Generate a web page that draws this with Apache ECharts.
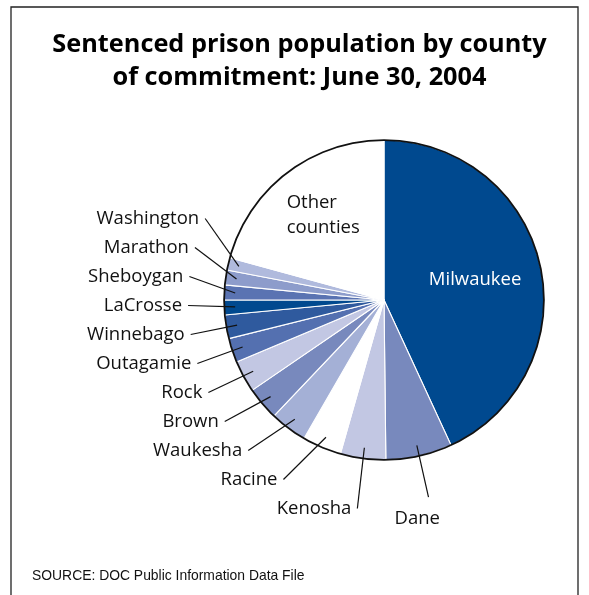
<!DOCTYPE html>
<html>
<head>
<meta charset="utf-8">
<script src="https://cdn.jsdelivr.net/npm/echarts@6/dist/echarts.min.js"></script>
<style>
  html, body { margin: 0; padding: 0; background: #fff; }
  #main { width: 589px; height: 595px; }
</style>
</head>
<body>
<div id="main"></div>
<script>
// counties in clockwise order starting at 12 o'clock
var counties = ["Milwaukee", "Dane", "Kenosha", "Racine", "Waukesha", "Brown", "Rock",
  "Outagamie", "Winnebago", "LaCrosse", "Sheboygan", "Marathon", "Washington", "Other counties"];
// sentenced inmates
var inmates = [9270, 1440, 985, 848, 806, 722, 693, 526, 514, 322, 322, 322, 269, 4461];
// fill of each slice, same order as counties
var sliceColors = ["#00498f", "#7889bd", "#c2c7e3", "#ffffff", "#a4b0d6", "#7889bd", "#c2c7e3",
  "#5470b0", "#2f5a9e", "#00498f", "#5a73b2", "#8d9ccb", "#b0badd", "#ffffff"];

var pieCenter = [384, 300];
var pieRadius = 160;
var lastIdx = counties.length - 1;

var dom = document.getElementById('main');
var chart = echarts.init(dom);

// the coloured slices, only the two inside labels are shown here
var pieData = [];
// a transparent copy, slightly smaller, that carries the outside labels
// so the leader lines start inside the slices
var labelData = [];
for (var i = 0; i < counties.length; i++) {
  var item = { name: counties[i], value: inmates[i], itemStyle: { color: sliceColors[i] } };
  var ghost = { name: counties[i], value: inmates[i] };
  if (i == 0) { // Milwaukee label sits inside the slice
    item.label = { show: true, color: '#fff', lineHeight: 20, offset: [10, -2] };
    ghost.label = { show: false };
    ghost.labelLine = { show: false };
  }
  if (i == lastIdx) { // other counties too, two left aligned lines
    item.label = {
      show: true, color: '#111', offset: [-11, -19],
      formatter: function (p) { return '{a|' + p.name.split(' ').join('}\n{a|') + '}'; },
      rich: { a: { width: 72, align: 'left', lineHeight: 25, fontFamily: 'Open Sans', fontSize: 18.5, color: '#111' } }
    };
    ghost.label = { show: false };
    ghost.labelLine = { show: false };
  }
  if (i == 1) { // Dane is alone on the right, keep it low
    ghost.label = { lineHeight: 14 };
  }
  pieData.push(item);
  labelData.push(ghost);
}

// Dane's label hangs under its leader line
function placeDane(params) {
  if (params.dataIndex == 1) return { dx: -40, dy: 22 };
  return {};
}

chart.setOption({
  animation: false,
  graphic: [
    { // frame round the figure
      type: 'rect', shape: { x: 11, y: 7, width: 567, height: 620 },
      style: { fill: null, stroke: '#222', lineWidth: 1.3 }, silent: true
    },
    { // title
      type: 'text', x: 299.5, y: 28,
      style: {
        text: 'Sentenced prison population by county\nof commitment: June 30, 2004',
        align: 'center', verticalAlign: 'top', lineHeight: 33,
        font: 'bold 25.3px "Open Sans"', fill: '#000'
      }
    },
    {
      type: 'text', left: 32, top: 569,
      style: { text: 'SOURCE: DOC Public Information Data File', font: '13.9px "Liberation Sans"', fill: '#111' }
    }
  ],
  series: [
    {
      type: 'pie', z: 2,
      center: pieCenter, radius: pieRadius,
      startAngle: 90, clockwise: true,
      itemStyle: { borderColor: '#fff', borderWidth: 1.1 },
      label: { show: false, position: 'inside', fontFamily: 'Open Sans', fontSize: 18.5 },
      labelLine: { show: false },
      data: pieData
    },
    { // thin black rim
      type: 'pie', silent: true, z: 3,
      center: pieCenter, radius: [pieRadius - 1, pieRadius + 0.8],
      label: { show: false }, labelLine: { show: false },
      itemStyle: { color: '#111' },
      data: [{ name: 'rim', value: 1 }]
    },
    {
      type: 'pie', z: 4, silent: true,
      left: 0, top: 0, right: 0, bottom: 72, // labels may not drop below y=523
      center: pieCenter, radius: pieRadius - 11,
      startAngle: 90, clockwise: true,
      avoidLabelOverlap: true,
      itemStyle: { color: 'rgba(0,0,0,0)', borderWidth: 0 },
      label: {
        show: true, position: 'outside',
        fontFamily: 'Open Sans', fontSize: 18.5, color: '#111',
        lineHeight: 27, distanceToLabelLine: 6
      },
      labelLine: {
        show: true, length: 53, length2: 0, smooth: false,
        lineStyle: { color: '#111', width: 1.2 }
      },
      labelLayout: placeDane,
      data: labelData
    }
  ]
});
</script>
</body>
</html>
